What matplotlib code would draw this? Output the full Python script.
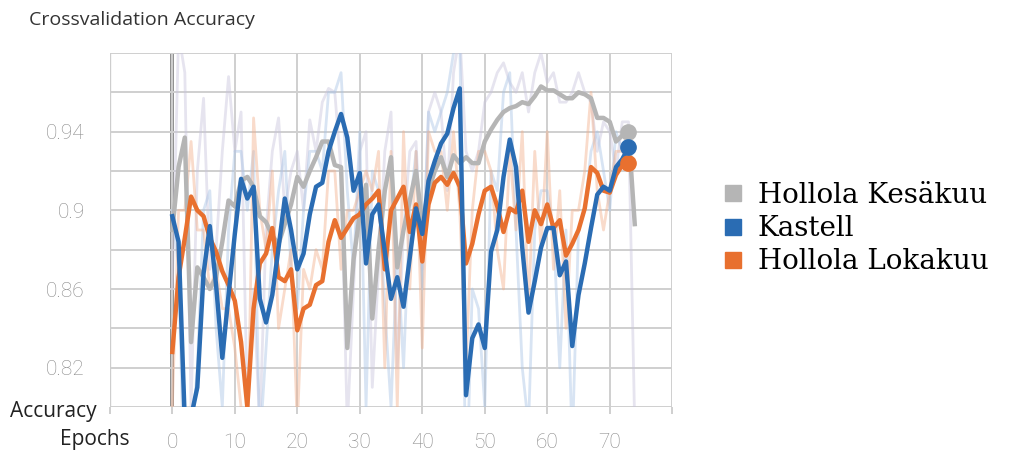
import numpy as np
import matplotlib.pyplot as plt
from matplotlib.lines import Line2D

# smoothed accuracy per epoch (bold lines)
kesakuu = [0.890, 0.922, 0.937, 0.833, 0.871, 0.866, 0.860, 0.866, 0.884, 0.905,
           0.902, 0.915, 0.917, 0.912, 0.897, 0.894, 0.887, 0.883, 0.893, 0.903,
           0.917, 0.912, 0.920, 0.927, 0.935, 0.935, 0.923, 0.922, 0.830, 0.875,
           0.898, 0.913, 0.845, 0.880, 0.910, 0.927, 0.871, 0.890, 0.905, 0.920,
           0.893, 0.910, 0.920, 0.927, 0.917, 0.928, 0.924, 0.927, 0.924, 0.924,
           0.935, 0.941, 0.946, 0.950, 0.952, 0.953, 0.955, 0.954, 0.958, 0.963,
           0.961, 0.961, 0.959, 0.957, 0.957, 0.960, 0.959, 0.957, 0.947, 0.947,
           0.945, 0.935, 0.938, 0.940, 0.893]
kastell = [0.897, 0.884, 0.792, 0.795, 0.810, 0.868, 0.892, 0.862, 0.825, 0.857,
           0.888, 0.916, 0.906, 0.912, 0.855, 0.843, 0.857, 0.881, 0.906, 0.890,
           0.870, 0.878, 0.898, 0.912, 0.914, 0.930, 0.940, 0.949, 0.937, 0.910,
           0.919, 0.873, 0.898, 0.903, 0.879, 0.855, 0.866, 0.851, 0.876, 0.901,
           0.888, 0.915, 0.925, 0.934, 0.939, 0.952, 0.962, 0.806, 0.835, 0.842,
           0.830, 0.879, 0.890, 0.917, 0.936, 0.922, 0.881, 0.848, 0.864, 0.881,
           0.891, 0.891, 0.867, 0.874, 0.831, 0.857, 0.873, 0.891, 0.908, 0.912,
           0.910, 0.922, 0.926, 0.932]
lokakuu = [0.828, 0.866, 0.886, 0.907, 0.900, 0.897, 0.886, 0.879, 0.869, 0.862,
           0.854, 0.833, 0.800, 0.850, 0.873, 0.878, 0.891, 0.866, 0.864, 0.870,
           0.839, 0.850, 0.852, 0.862, 0.864, 0.884, 0.895, 0.886, 0.891, 0.896,
           0.898, 0.903, 0.906, 0.910, 0.870, 0.900, 0.906, 0.912, 0.889, 0.903,
           0.874, 0.903, 0.914, 0.917, 0.913, 0.919, 0.912, 0.873, 0.883, 0.898,
           0.910, 0.912, 0.902, 0.889, 0.901, 0.899, 0.910, 0.884, 0.900, 0.893,
           0.903, 0.891, 0.895, 0.877, 0.883, 0.890, 0.901, 0.922, 0.919, 0.910,
           0.909, 0.918, 0.923, 0.924]

# raw accuracy per epoch (faint lines)
kesakuu_raw = [0.86, 0.99, 0.97, 0.80, 0.92, 0.957, 0.87, 0.88, 0.93, 0.968,
               0.93, 0.95, 0.80, 0.86, 0.79, 0.89, 0.93, 0.947, 0.90, 0.92,
               0.93, 0.90, 0.946, 0.93, 0.955, 0.962, 0.96, 0.92, 0.79, 0.86,
               0.93, 0.94, 0.81, 0.87, 0.93, 0.95, 0.82, 0.89, 0.93, 0.935,
               0.87, 0.95, 0.96, 0.95, 0.91, 0.97, 0.99, 0.93, 0.92, 0.93,
               0.955, 0.96, 0.97, 0.975, 0.965, 0.96, 0.97, 0.95, 0.97, 0.98,
               0.965, 0.97, 0.955, 0.955, 0.96, 0.97, 0.96, 0.955, 0.93, 0.945,
               0.94, 0.92, 0.945, 0.945, 0.79]
kastell_raw = [0.90, 0.87, 0.75, 0.78, 0.82, 0.90, 0.91, 0.84, 0.80, 0.89,
               0.93, 0.93, 0.90, 0.93, 0.78, 0.83, 0.88, 0.91, 0.93, 0.87,
               0.85, 0.90, 0.93, 0.93, 0.92, 0.96, 0.96, 0.97, 0.91, 0.87,
               0.94, 0.80, 0.92, 0.91, 0.85, 0.80, 0.88, 0.82, 0.90, 0.93,
               0.86, 0.95, 0.94, 0.95, 0.96, 0.98, 0.99, 0.75, 0.86, 0.85,
               0.80, 0.92, 0.91, 0.96, 0.97, 0.89, 0.82, 0.79, 0.89, 0.91,
               0.91, 0.89, 0.82, 0.89, 0.78, 0.89, 0.90, 0.93, 0.94, 0.92,
               0.90, 0.94, 0.93, 0.94]
lokakuu_raw = [0.80, 0.90, 0.90, 0.935, 0.89, 0.89, 0.86, 0.87, 0.85, 0.85,
               0.83, 0.80, 0.77, 0.947, 0.90, 0.88, 0.92, 0.84, 0.86, 0.88,
               0.79, 0.87, 0.86, 0.88, 0.87, 0.92, 0.92, 0.87, 0.90, 0.90,
               0.91, 0.92, 0.91, 0.93, 0.82, 0.93, 0.80, 0.94, 0.86, 0.93,
               0.83, 0.94, 0.93, 0.93, 0.90, 0.94, 0.90, 0.82, 0.90, 0.93,
               0.93, 0.92, 0.88, 0.86, 0.93, 0.89, 0.94, 0.85, 0.93, 0.88,
               0.94, 0.87, 0.91, 0.84, 0.90, 0.90, 0.92, 0.96, 0.91, 0.89,
               0.91, 0.93, 0.93, 0.925]

names = ["Hollola Kesäkuu", "Kastell", "Hollola Lokakuu"]
colors = ["#b5b5b5", "#2a6cb3", "#e8702f"]
raw_colors = ["#c8c4dc", "#a9c4e6", "#f2b08c"]
marker_epoch = 73

y_ticks = [0.80, 0.82, 0.84, 0.86, 0.88, 0.90, 0.92, 0.94, 0.96, 0.98]
y_labels = ["", "0.82", "", "0.86", "", "0.9", "", "0.94", "", ""]
x_ticks = list(range(-10, 81, 10))
x_labels = ["" if v in (-10, 80) else str(v) for v in x_ticks]

fig = plt.figure(figsize=(10.17, 4.53), dpi=100)
ax = fig.add_axes([0.108, 0.1015, 0.553, 0.7815])

smooth = [kesakuu, kastell, lokakuu]
raw = [kesakuu_raw, kastell_raw, lokakuu_raw]

# faint raw lines first
for vals, c in zip(raw, raw_colors):
    ax.plot(np.arange(len(vals)), vals, color=c, lw=2, alpha=0.45, zorder=2)

# bold smoothed lines, drawn grey, orange, blue
for i in [0, 2, 1]:
    vals = smooth[i]
    ax.plot(np.arange(len(vals)), vals, color=colors[i], lw=3.2, zorder=3)
    ax.plot(marker_epoch, vals[marker_epoch], 'o', color=colors[i], ms=11, zorder=4)

ax.set_xlim(-10, 80)
ax.set_ylim(0.80, 0.98)
ax.set_xticks(x_ticks)
ax.set_xticklabels(x_labels)
ax.set_yticks(y_ticks)
ax.set_yticklabels(y_labels)
ax.grid(True, color="#cfcfcf", lw=1.4, zorder=0)
ax.axvline(0, color="#8c8c8c", lw=2.8, zorder=1)
ax.axvline(-10, color="#b0b0b0", lw=1.6, zorder=1)
for s in ax.spines.values():
    s.set_visible(False)
ax.tick_params(axis='both', colors="#cfcfcf", labelcolor="#8a8a8a", length=5,
               width=1.4, labelsize=15)
ax.tick_params(axis='x', pad=14)
ax.tick_params(axis='y', length=0, pad=18)
for lab in ax.get_xticklabels() + ax.get_yticklabels():
    lab.set_family(['Roboto', 'DejaVu Sans'])
    lab.set_fontweight('light')

fig.text(0.029, 0.956, "Crossvalidation Accuracy", fontsize=14, color="#333333",
         family=['Open Sans', 'DejaVu Sans'], va='center')
fig.text(0.010, 0.091, "Accuracy", fontsize=15, color="#222222",
         family=['Open Sans', 'DejaVu Sans'], va='center')
fig.text(0.059, 0.029, "Epochs", fontsize=15, color="#222222",
         family=['Open Sans', 'DejaVu Sans'], va='center')

handles = [Line2D([], [], marker='s', ls='none', color=c, ms=11) for c in colors]
fig.legend(handles, names, loc='center left', bbox_to_anchor=(0.685, 0.495),
           frameon=False, handlelength=0.8, handletextpad=0.5, labelspacing=0.22,
           prop={'family': 'DejaVu Serif', 'size': 20})

fig.savefig("out.png", dpi=100)
